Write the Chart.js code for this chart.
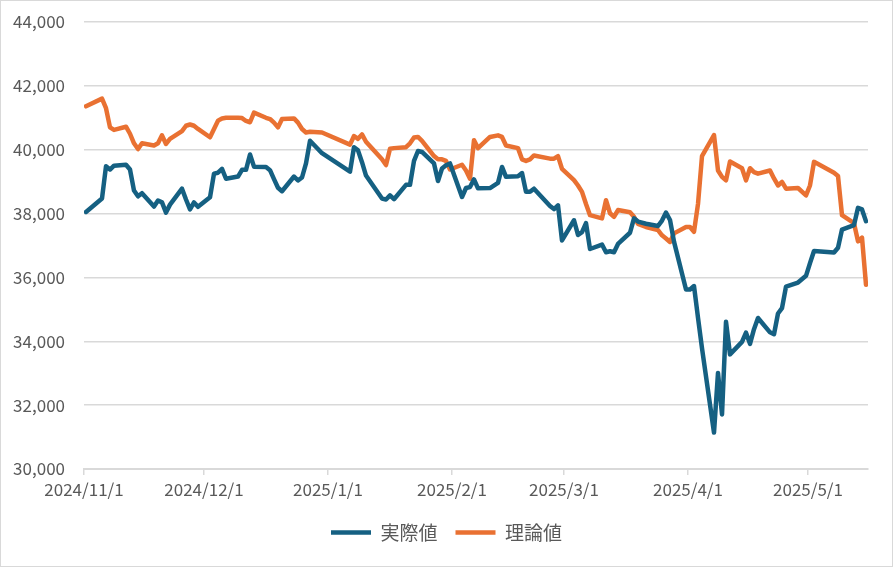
<!DOCTYPE html>
<html>
<head>
<meta charset="utf-8">
<script src="https://cdn.jsdelivr.net/npm/chart.js@4.4.1/dist/chart.umd.min.js"></script>
<style>
    html, body { margin: 0; padding: 0; background: #fff; }
    #wrap { width: 893px; height: 567px; box-sizing: border-box; border: 1px solid #d9d9d9; position: relative; }
</style>
</head>
<body>
<div id="wrap"><canvas id="canvas"></canvas></div>
<script>
// trading days shown on the chart
const dates = [
    '2024/11/1', '2024/11/5', '2024/11/6', '2024/11/7', '2024/11/8', '2024/11/11', '2024/11/12', '2024/11/13', '2024/11/14', '2024/11/15',
    '2024/11/18', '2024/11/19', '2024/11/20', '2024/11/21', '2024/11/22', '2024/11/25', '2024/11/26', '2024/11/27', '2024/11/28', '2024/11/29',
    '2024/12/2', '2024/12/3', '2024/12/4', '2024/12/5', '2024/12/6', '2024/12/9', '2024/12/10', '2024/12/11', '2024/12/12', '2024/12/13',
    '2024/12/16', '2024/12/17', '2024/12/18', '2024/12/19', '2024/12/20', '2024/12/23', '2024/12/24', '2024/12/25', '2024/12/26', '2024/12/27', '2024/12/30',
    '2025/1/6', '2025/1/7', '2025/1/8', '2025/1/9', '2025/1/10', '2025/1/14', '2025/1/15', '2025/1/16', '2025/1/17',
    '2025/1/20', '2025/1/21', '2025/1/22', '2025/1/23', '2025/1/24', '2025/1/27', '2025/1/28', '2025/1/29', '2025/1/30', '2025/1/31',
    '2025/2/3', '2025/2/4', '2025/2/5', '2025/2/6', '2025/2/7', '2025/2/10', '2025/2/12', '2025/2/13', '2025/2/14',
    '2025/2/17', '2025/2/18', '2025/2/19', '2025/2/20', '2025/2/21', '2025/2/25', '2025/2/26', '2025/2/27', '2025/2/28',
    '2025/3/3', '2025/3/4', '2025/3/5', '2025/3/6', '2025/3/7', '2025/3/10', '2025/3/11', '2025/3/12', '2025/3/13', '2025/3/14',
    '2025/3/17', '2025/3/18', '2025/3/19', '2025/3/21', '2025/3/24', '2025/3/25', '2025/3/26', '2025/3/27', '2025/3/28', '2025/3/31',
    '2025/4/1', '2025/4/2', '2025/4/3', '2025/4/4', '2025/4/7', '2025/4/8', '2025/4/9', '2025/4/10', '2025/4/11',
    '2025/4/14', '2025/4/15', '2025/4/16', '2025/4/17', '2025/4/18', '2025/4/21', '2025/4/22', '2025/4/23', '2025/4/24', '2025/4/25', '2025/4/28', '2025/4/30',
    '2025/5/1', '2025/5/2', '2025/5/7', '2025/5/8', '2025/5/9', '2025/5/12', '2025/5/13', '2025/5/14', '2025/5/15',
];

const actual = [
    38050, 38470, 39480, 39380, 39500, 39530, 39380, 38720, 38540, 38640, 38220, 38410, 38350, 38030, 38280, 38780, 38440, 38130, 38350, 38210,
    38510, 39250, 39280, 39400, 39090, 39160, 39370, 39370, 39850, 39470, 39460, 39360, 39080, 38810, 38700, 39160, 39040, 39130, 39570, 40280, 39890,
    39310, 40080, 39980, 39610, 39190, 38470, 38440, 38570, 38450, 38900, 38900, 39650, 39960, 39930, 39570, 39020, 39410, 39510, 39570,
    38520, 38800, 38830, 39070, 38790, 38800, 38960, 39460, 39150, 39170, 39270, 38680, 38680, 38780, 38240, 38140, 38260, 37160,
    37790, 37330, 37420, 37700, 36890, 37030, 36790, 36820, 36790, 37050, 37400, 37850, 37750, 37680, 37610, 37780, 38030, 37800, 37120, 35620,
    35620, 35730, 34740, 33780, 31140, 33010, 31710, 34610, 33590, 33980, 34270, 33920, 34380, 34730, 34280, 34220, 34870, 35040, 35710, 35840, 36050,
    36450, 36830, 36780, 36930, 37500, 37640, 38180, 38130, 37760,
];

const theory = [
    41360, 41600, 41300, 40700, 40620, 40720, 40500, 40200, 40020, 40200, 40130, 40200, 40450, 40180, 40340, 40580, 40750, 40790, 40750, 40650,
    40390, 40650, 40910, 40980, 41000, 41000, 40990, 40900, 40860, 41160, 41000, 40960, 40850, 40700, 40960, 40980, 40850, 40650, 40540, 40560, 40540,
    40160, 40430, 40340, 40480, 40250, 39700, 39520, 40030, 40050, 40080, 40200, 40380, 40400, 40280, 39800, 39700, 39700, 39650, 39380,
    39530, 39350, 39090, 40300, 40050, 40400, 40450, 40400, 40130, 40050, 39700, 39650, 39700, 39820, 39720, 39720, 39800, 39400,
    39050, 38880, 38680, 38300, 37950, 37850, 38420, 38010, 37900, 38110, 38040, 37900, 37680, 37580, 37480, 37320, 37220, 37110, 37380, 37580,
    37580, 37430, 38300, 39800, 40460, 39350, 39150, 39040, 39630, 39420, 39040, 39420, 39300, 39250, 39350, 39100, 38880, 38990, 38780, 38800, 38570,
    38880, 39620, 39280, 39180, 37950, 37700, 37130, 37250, 35770,
];

const monthLabels = ['2024/11/1', '2024/12/1', '2025/1/1', '2025/2/1', '2025/3/1', '2025/4/1', '2025/5/1'];
const seriesNames = ['実際値', '理論値'];
const axisEnd = '2025/5/16';

const colors = {
    blue: '#156082',
    orange: '#E97132',
    grid: '#d9d9d9',
    text: '#595959',
};

// days since the first label, so the axis spaces dates like a calendar
function dayOf(s) {
    const [y, m, d] = s.split('/').map(Number);
    return (Date.UTC(y, m - 1, d) - Date.UTC(2024, 10, 1)) / 86400000;
}

const monthDays = monthLabels.map(dayOf);
const toPoints = values => values.map((v, i) => ({ x: dayOf(dates[i]) + 0.5, y: v }));

Chart.defaults.font.family = "'Liberation Sans Narrow', 'Noto Sans CJK JP', sans-serif";
Chart.defaults.font.size = 17;
Chart.defaults.color = colors.text;

const lineStyle = {
    fill: false,
    borderWidth: 4.5,
    pointRadius: 0,
    borderCapStyle: 'round',
    borderJoinStyle: 'round',
    tension: 0,
};

// centre the legend on the whole picture, not on the padded box
const legendCenter = {
    id: 'legendCenter',
    afterLayout(chart) {
        chart.legend.left = 24;
        chart.legend.right = chart.width - 24;
    },
};

const ctx = document.getElementById('canvas');
new Chart(ctx, {
    type: 'line',
    data: {
        datasets: [
            { ...lineStyle, label: seriesNames[0], data: toPoints(actual), borderColor: colors.blue, backgroundColor: colors.blue },
            { ...lineStyle, label: seriesNames[1], data: toPoints(theory), borderColor: colors.orange, backgroundColor: colors.orange },
        ],
    },
    plugins: [legendCenter],
    options: {
        responsive: true,
        maintainAspectRatio: false,
        animation: false,
        devicePixelRatio: 1,
        layout: {
            padding: { left: 0, right: 24, top: 21, bottom: 14 },
        },
        plugins: {
            tooltip: { enabled: false },
            legend: {
                position: 'bottom',
                labels: {
                    usePointStyle: true,
                    pointStyleWidth: 40,
                    pointStyle: 'line',
                    padding: 18,
                    font: { family: "'Noto Sans CJK JP', sans-serif", size: 19 },
                },
            },
        },
        scales: {
            x: {
                type: 'linear',
                min: 0,
                max: dayOf(axisEnd),
                afterBuildTicks: axis => {
                    axis.ticks = monthDays.map(v => ({ value: v }));
                },
                afterFit: axis => {
                    axis.height = 36;
                },
                ticks: {
                    autoSkip: false,
                    maxRotation: 0,
                    padding: 4,
                    callback: (value, index) => monthLabels[index],
                },
                grid: {
                    drawOnChartArea: false,
                    drawTicks: true,
                    tickLength: 6,
                    color: colors.grid,
                    lineWidth: 1.5,
                },
                border: { color: colors.grid, width: 2 },
            },
            y: {
                min: 30000,
                max: 44000,
                afterFit: axis => {
                    axis.width = 83;
                    axis.paddingTop = 0;
                    axis.paddingBottom = 0;
                },
                ticks: {
                    stepSize: 2000,
                    padding: 19,
                    callback: value => value.toLocaleString('en-US'),
                },
                grid: {
                    drawTicks: false,
                    color: colors.grid,
                    lineWidth: 1.5,
                },
                border: { display: false },
            },
        },
    },
});
</script>
</body>
</html>
